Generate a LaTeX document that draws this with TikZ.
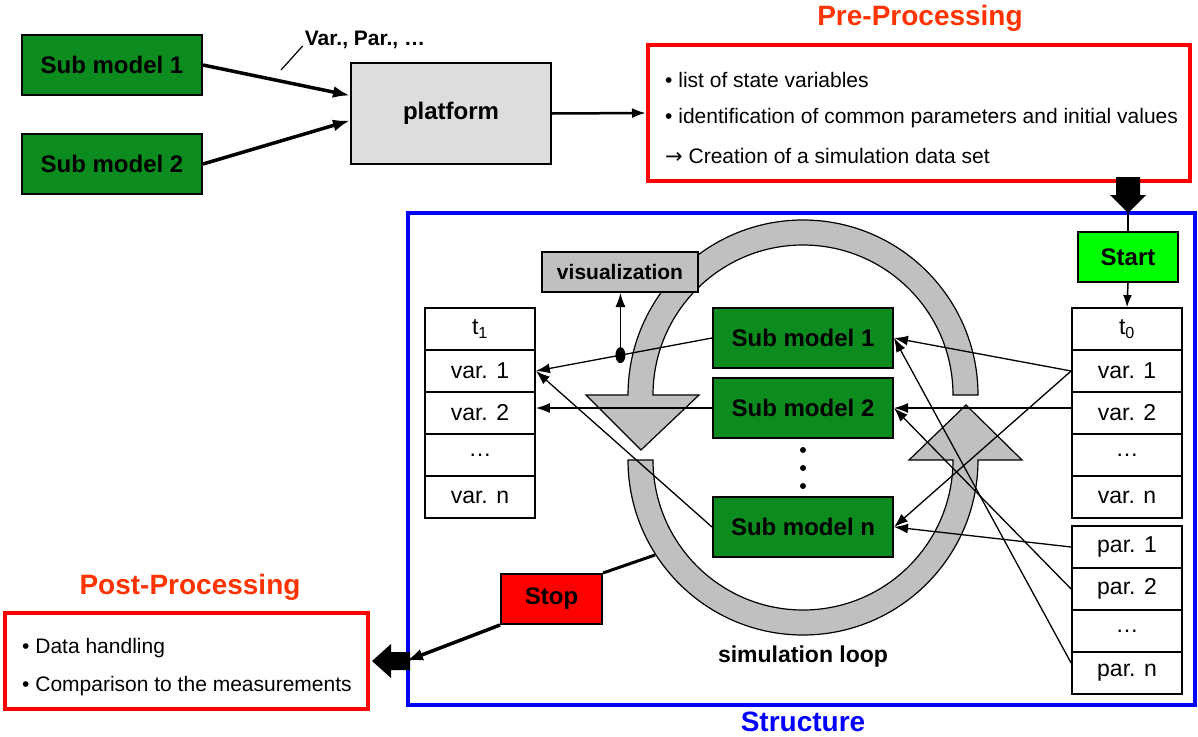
\documentclass[tikz,border=0pt]{standalone}
\usepackage{fontspec}
\setmainfont{Liberation Sans}
\newfontfamily\djv{DejaVu Sans}
\usetikzlibrary{arrows.meta,calc}
\definecolor{smgreen}{RGB}{12,140,30}
\definecolor{titlered}{RGB}{255,51,0}
\definecolor{platgray}{RGB}{221,221,221}
\definecolor{visgray}{RGB}{192,192,192}
\definecolor{startgreen}{RGB}{0,255,0}
\tikzset{
  bx/.style={draw=black, line width=2pt, inner sep=0pt, text=black, font=\fontsize{24}{28}\selectfont\bfseries},
  smbox/.style={bx, fill=smgreen, minimum width=180pt, minimum height=60pt},
  cell/.style={draw=black, line width=1.8pt, fill=white, minimum width=110pt, minimum height=42pt, inner sep=0pt, font=\fontsize{23}{27}\selectfont},
  conn/.style={line width=1.3pt, -{Latex[length=14pt,width=10pt]}},
  fatarrow/.style={line width=3.5pt, -{Latex[length=17pt,width=12pt]}},
  ring/.style={fill=visgray, draw=black, line width=1.2pt},
  titletext/.style={font=\fontsize{28}{32}\selectfont\bfseries, inner sep=0pt},
  bodytext/.style={font=\fontsize{21}{25}\selectfont, anchor=west, inner sep=0pt},
  framebox/.style={line width=4pt, inner sep=0pt}
}
\begin{document}
\begin{tikzpicture}[x=1pt,y=-1pt]
\useasboundingbox (0,0) rectangle (1198,736);

% ---------- top part ----------
\node[smbox] (sm1top) at (112,65) {Sub model 1};
\node[smbox] (sm2top) at (112,164) {Sub model 2};
\node[bx, fill=platgray, minimum width=200pt, minimum height=101pt] (plat) at (451,113.5) {platform};
\draw[fatarrow] (sm1top.east) -- ([yshift=18pt]plat.west);
\draw[fatarrow] (sm2top.east) -- ([yshift=-7pt]plat.west);
\node[font=\fontsize{21}{25}\selectfont\bfseries, inner sep=0pt] (varlbl) at (365,40) {Var., Par., …};
\coordinate (lead) at (281,70);
\draw[line width=1.2pt] (lead) -- ([shift={(-2,6)}]varlbl.west);

% ---------- pre-processing ----------
\node[titletext, text=titlered] (pretitle) at (920,18) {Pre-Processing};
\node[framebox, draw=red, minimum width=542pt, minimum height=136pt] (pre) at (919,113) {};
\node[bodytext] (pre1) at (665,80) {• list of state variables};
\node[bodytext] (pre2) at (665,118) {• identification of common parameters and initial values};
\node[bodytext] (pre3) at (665,156) {{\djv →} Creation of a simulation data set};
\draw[line width=2.5pt, -{Latex[length=14pt,width=10pt]}] (plat.east) -- (pre.west);

% ---------- structure ----------
\node[framebox, draw=blue, minimum width=787pt, minimum height=492pt] (struct) at (801.5,459) {};
\node[titletext, text=blue] (structtitle) at (803,722) {Structure};

% loop arrows
\filldraw[ring] (953,395) -- (978,395) arc[start angle=0, end angle=-180, radius=175]
  -- (586,395) -- (641,450) -- (699,395) -- (653,395)
  arc[start angle=-180, end angle=0, radius=150] -- cycle;
\filldraw[ring] (628,460) -- (653,460) arc[start angle=180, end angle=0, radius=150]
  -- (909,460) -- (966,405) -- (1022,460) -- (978,460)
  arc[start angle=0, end angle=180, radius=175] -- cycle;
\node[font=\fontsize{23}{27}\selectfont\bfseries, inner sep=0pt] (looplbl) at (803,657) {simulation loop};

% boxes in loop
\node[smbox] (sm1) at (803,338) {Sub model 1};
\node[smbox] (sm2) at (803,408) {Sub model 2};
\node[smbox] (smn) at (803,527) {Sub model n};
\foreach \yy in {450,468,486} \fill (803,\yy) circle[radius=3];
\node[bx, fill=visgray, minimum width=156pt, minimum height=40pt, font=\fontsize{21}{25}\selectfont\bfseries] (vis) at (620,272) {visualization};

% tables
\node[cell] (l0) at (480,329) {t\textsubscript{1}};
\node[cell] (lv1) at (480,371) {var. 1};
\node[cell] (lv2) at (480,413) {var. 2};
\node[cell] (lvd) at (480,455) {…};
\node[cell] (lvn) at (480,497) {var. n};
\node[cell] (r0) at (1127,329) {t\textsubscript{0}};
\node[cell] (rv1) at (1127,371) {var. 1};
\node[cell] (rv2) at (1127,413) {var. 2};
\node[cell] (rvd) at (1127,455) {…};
\node[cell] (rvn) at (1127,497) {var. n};
\node[cell] (p1) at (1127,547) {par. 1};
\node[cell] (p2) at (1127,589) {par. 2};
\node[cell] (pd) at (1127,631) {…};
\node[cell] (pn) at (1127,673) {par. n};

% start / stop
\node[bx, fill=startgreen, minimum width=100pt, minimum height=50pt] (start) at (1128,257) {Start};
\node[bx, fill=red, minimum width=101pt, minimum height=50pt] (stop) at (551.5,599) {Stop};

% connectors left
\path (sm1.west) -- (lv1.east) coordinate[pos=0.52] (vdot);
\draw[conn] (sm1.west) -- (lv1.east);
\draw[conn] (sm2.west) -- (sm2.west -| lv2.east);
\draw[conn] (smn.west) -- (lv1.east);
\fill (vdot) ellipse[x radius=5, y radius=8];
\draw[conn] (vdot) -- (vdot |- vis.south);

% connectors right
\draw[conn] (rv1.west) -- (sm1.east);
\draw[conn] (rv1.west) -- (smn.east);
\draw[conn] (sm2.east -| rv2.west) -- (sm2.east);
\draw[conn] (p1.west) -- (smn.east);
\draw[conn] (p2.west) -- (sm2.east);
\draw[conn] ([yshift=10pt]pn.west) -- (sm1.east);

% start links
\coordinate (ptip) at (start.north |- struct.north);
\draw[line width=1.5pt] (ptip) -- (start.north);
\draw[line width=1.5pt, -{Latex[length=12pt,width=9pt]}] (start.south) -- (r0.north);
\begin{scope}[shift={(ptip)}]
  \fill (0,2) -- (-18,-16) -- (-12,-16) -- (-12,-34) -- (12,-34) -- (12,-16) -- (18,-16) -- cycle;
\end{scope}

% post-processing
\node[titletext, text=titlered] (posttitle) at (190,587) {Post-Processing};
\node[framebox, draw=red, minimum width=363pt, minimum height=96pt] (post) at (186.5,661) {};
\node[bodytext] (post1) at (22,648) {• Data handling};
\node[bodytext] (post2) at (22,686) {• Comparison to the measurements};

% stop links
\coordinate (ringpt) at (655,555);
\draw[line width=3pt] (ringpt) -- (stop.north east);
\coordinate (stoptip) at (post.east -| struct.west);
\draw[fatarrow] (stop.south west) -- (stoptip);
\begin{scope}[shift={(post.east)}]
  \fill (2,0) -- (21,-17) -- (21,-9) -- (40,-9) -- (40,9) -- (21,9) -- (21,17) -- cycle;
\end{scope}
\end{tikzpicture}
\end{document}
